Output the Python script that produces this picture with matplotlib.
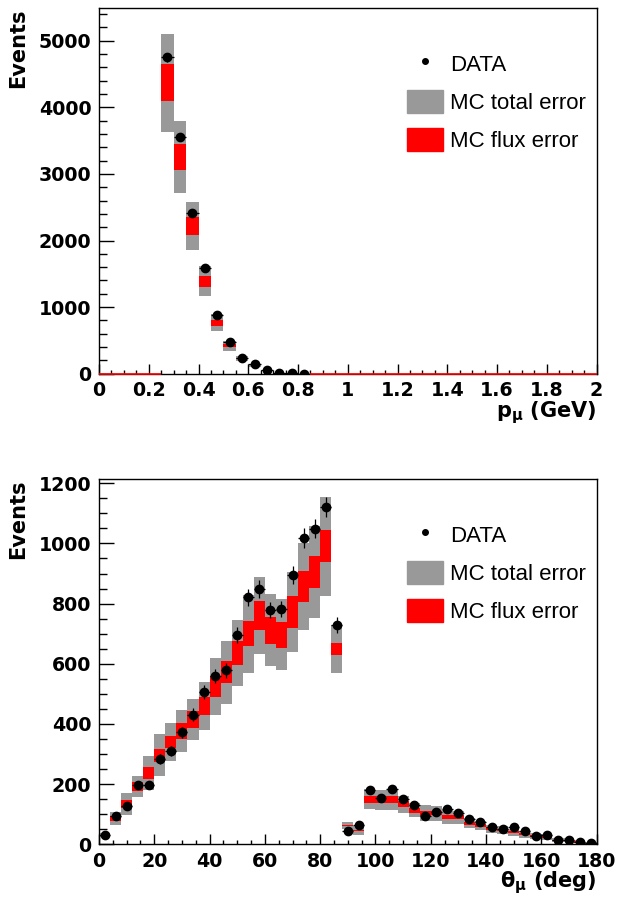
import matplotlib
matplotlib.use('Agg')
import matplotlib.pyplot as plt
from matplotlib.ticker import MultipleLocator, FuncFormatter
from matplotlib.patches import Patch
from matplotlib.lines import Line2D
import numpy as np

# muon momentum, 0.05 GeV bins from 0 to 2 GeV
p_edges = np.linspace(0, 2, 41)
p_mc = [0] * 5 + [4367, 3256, 2220, 1385, 768, 418, 225, 115, 45, 12, 4, 1] + [0] * 23
p_tot = [0] * 5 + [733, 538, 358, 225, 125, 75, 37, 20, 10, 4, 2, 1] + [0] * 23
p_flux = [0] * 5 + [276, 200, 135, 80, 45, 22, 9, 5, 3, 1, 0.5, 0.3] + [0] * 23
p_data = [0] * 5 + [4751, 3559, 2417, 1583, 877, 471, 240, 141, 55, 12, 5, 2] + [0] * 23

# muon angle, 4 deg bins from 0 to 180 deg
th_edges = np.linspace(0, 180, 46)
th_mc = [30, 85, 134, 193, 237, 296, 340, 377, 415, 460, 525, 572, 636, 700, 760,
         712, 697, 772, 858, 905, 990, 650, 62, 46, 150, 148, 148, 133, 113, 103,
         103, 91, 90, 70, 63, 52, 47, 40, 33, 27, 25, 14, 14, 8, 4]
th_tot = [6, 22, 35, 35, 58, 70, 62, 69, 69, 80, 95, 105, 110, 130, 127,
          120, 117, 132, 145, 154, 165, 80, 11, 14, 33, 33, 33, 28, 23, 27,
          25, 22, 22, 17, 15, 13, 13, 12, 11, 9, 9, 7, 7, 5, 3]
th_flux = [2.5, 9, 14, 15, 19, 21, 19, 26, 28, 30, 35, 37, 40, 42, 48,
           45, 43, 52, 52, 54, 53, 20, 2, 2, 11, 11, 11, 10, 8, 8,
           7, 7, 6, 5, 4, 4, 4, 3, 3, 3, 3, 2, 2, 2, 1.5]
th_data = [31, 93, 126, 197, 197, 284, 310, 372, 431, 507, 560, 578, 695, 821, 848,
           779, 782, 894, 1018, 1049, 1122, 729, 44, 65, 182, 153, 183, 152, 130, 94,
           107, 116, 104, 85, 74, 58, 51, 57, 44, 29, 31, 14, 14, 7, 3]

GRAY = '#999999'
RED = '#ff0000'

plt.rcParams['font.family'] = 'DejaVu Sans'
plt.rcParams['font.weight'] = 'bold'
plt.rcParams['axes.labelweight'] = 'bold'
plt.rcParams['mathtext.fontset'] = 'dejavusans'

fig = plt.figure(figsize=(6.19, 9.01), dpi=100)
ax1 = fig.add_axes([0.160, 0.5852, 0.8037, 0.4056])
ax2 = fig.add_axes([0.160, 0.0629, 0.8037, 0.4051])


def draw_panel(ax, edges, mc, tot, flux, data):
    lo = edges[:-1]
    w = np.diff(edges)
    ctr = lo + w / 2
    mc, tot, flux, data = (np.asarray(a, float) for a in (mc, tot, flux, data))
    ax.bar(lo, 2 * tot, bottom=mc - tot, width=w, align='edge', color=GRAY, lw=0)
    ax.bar(lo, 2 * flux, bottom=mc - flux, width=w, align='edge', color=RED, lw=0)
    # empty bins show up as a red line on zero
    zero = mc == 0
    ax.hlines(mc[zero], lo[zero], lo[zero] + w[zero], color=RED, lw=1.2,
              zorder=3, clip_on=False)
    has = data > 0
    ax.errorbar(ctr[has], data[has], xerr=w[has] / 2, yerr=np.sqrt(data[has]),
                fmt='o', color='black', ms=6, elinewidth=0.9, capsize=0, zorder=4)


def style_axis(ax, xmaj, xmin, ymaj, ymin):
    ax.xaxis.set_major_locator(MultipleLocator(xmaj))
    ax.xaxis.set_minor_locator(MultipleLocator(xmin))
    ax.yaxis.set_major_locator(MultipleLocator(ymaj))
    ax.yaxis.set_minor_locator(MultipleLocator(ymin))
    ax.xaxis.set_major_formatter(FuncFormatter(lambda v, pos: '%g' % round(v, 6)))
    ax.tick_params(which='both', direction='in', top=False, right=False,
                   width=1.0, labelsize=13.7)
    ax.tick_params(axis='x', which='major', length=7.4, pad=5.5)
    ax.tick_params(axis='x', which='minor', length=3.2)
    ax.tick_params(axis='y', which='major', length=10.8, pad=5.5)
    ax.tick_params(axis='y', which='minor', length=5.4)
    for s in ax.spines.values():
        s.set_linewidth(1.0)
    ax.set_ylabel('Events', loc='top', fontsize=15, labelpad=8)
    handles = [Line2D([], [], marker='o', ls='none', color='black', ms=4),
               Patch(color=GRAY), Patch(color=RED)]
    ax.legend(handles, ['DATA', 'MC total error', 'MC flux error'],
              loc='upper left', bbox_to_anchor=(0.619, 0.882), frameon=False,
              prop={'family': 'Liberation Sans', 'weight': 'normal', 'size': 16},
              handlelength=1.6, handleheight=1.27, handletextpad=0.32,
              labelspacing=0.62, borderpad=0, borderaxespad=0)


draw_panel(ax1, p_edges, p_mc, p_tot, p_flux, p_data)
ax1.set_xlim(0, 2)
ax1.set_ylim(0, 5486)
style_axis(ax1, 0.2, 0.05, 1000, 200)
ax1.set_xlabel(r'$\mathbf{p}_{\mathrm{\mu}}$ (GeV)', loc='right', fontsize=15, labelpad=-1)

draw_panel(ax2, th_edges, th_mc, th_tot, th_flux, th_data)
ax2.set_xlim(0, 180)
ax2.set_ylim(0, 1213)
style_axis(ax2, 20, 5, 200, 50)
ax2.set_xlabel(r'$\mathrm{\theta}_{\mathrm{\mu}}$ (deg)', loc='right', fontsize=15, labelpad=-1)

fig.savefig('out.png', dpi=100)
